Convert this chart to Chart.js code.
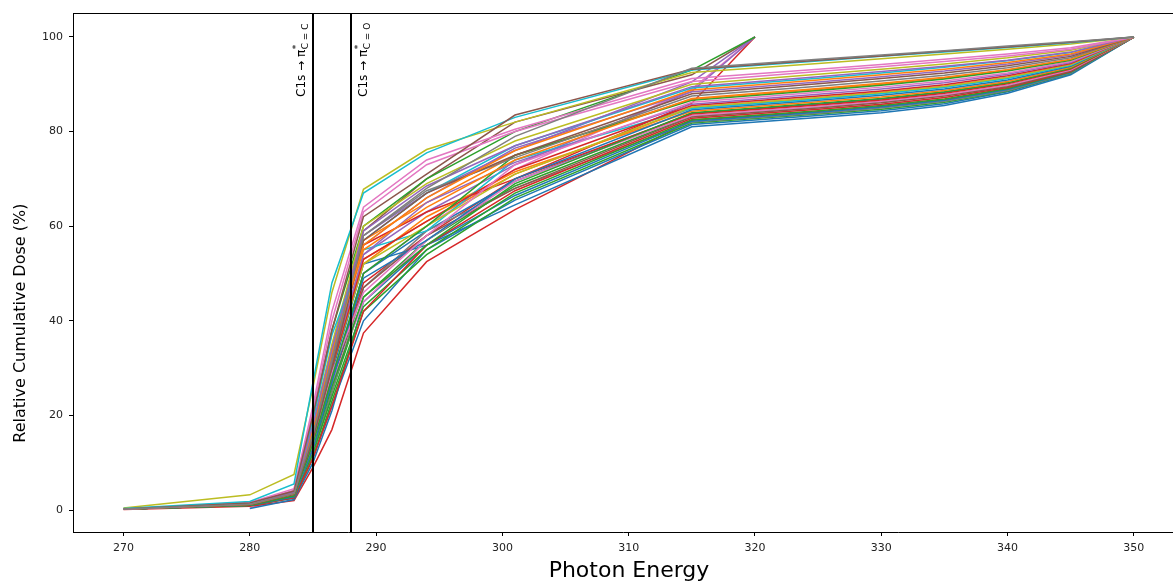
<!DOCTYPE html>
<html><head><meta charset="utf-8">
<script src="https://cdn.jsdelivr.net/npm/chart.js@4.4.1/dist/chart.umd.min.js"></script>
<style>html,body{margin:0;padding:0;background:#fff;overflow:hidden}canvas{display:block}</style>
</head><body>
<canvas id="c" width="1173" height="583"></canvas>
<script>
// ---------- data ----------
const energyLong  = [270, 280, 283.5, 285, 286.5, 289, 294, 301, 315, 325, 330, 335, 340, 345, 350];
const energyShort = [270, 280, 283.5, 285, 286.5, 289, 294, 301, 315, 320];
const xTickValues = [270, 280, 290, 300, 310, 320, 330, 340, 350];
const yTickValues = [0, 20, 40, 60, 80, 100];
const markerEnergies = [285, 288];
const markerBonds = ['C = C', 'C = O'];
const xTitle = 'Photon Energy';
const yTitle = 'Relative Cumulative Dose (%)';

// long series (end at 350)
const L01 = [0.2, 1.2, 3.5, 16, 32, 58, 68, 79, 93.4, 95.3, 96.2, 97.1, 98.1, 99.0, 100];
const L02 = [0.2, 1.5, 4.0, 20, 38, 62, 71, 83.5, 93.2, 95.1, 96.0, 97.0, 97.9, 98.9, 100];
const L03 = [0.3, 1.8, 5.5, 27, 48, 67, 75.5, 83, 93.0, 94.9, 95.9, 96.8, 97.8, 98.8, 100];
const L04 = [0.4, 3.2, 7.5, 26, 46, 67.8, 76.2, 82, 92.5, 94.4, 95.4, 96.4, 97.4, 98.5, 100];
const L05 = [0.2, 1.6, 4.5, 22, 42, 64, 74, 80.5, 91.2, 93.2, 94.2, 95.3, 96.4, 97.7, 100];
const L06 = [0.2, 1.4, 4.2, 21, 40, 63, 73, 80, 90.6, 92.7, 93.7, 94.8, 96.0, 97.4, 100];
const L07 = [0.2, 1.3, 3.8, 18, 34, 59, 68.5, 77, 89.5, 91.6, 92.7, 93.8, 95.1, 96.8, 100];
const L08 = [0.2, 1.2, 3.5, 17, 33, 56, 66, 76, 88.8, 90.9, 92.0, 93.2, 94.6, 96.4, 100];
const L09 = [0.2, 1.1, 3.3, 15, 30, 57, 67, 75, 88.0, 90.1, 91.2, 92.4, 93.9, 95.9, 100];
const L10 = [0.2, 1.2, 3.4, 16, 31, 58, 67.5, 74.5, 87.5, 89.6, 90.7, 91.9, 93.5, 95.6, 100];
const L11 = [0.2, 1.3, 3.6, 17, 33, 55, 64, 74, 87.0, 89.1, 90.2, 91.5, 93.1, 95.3, 100];
const L12 = [0.2, 1.0, 3.0, 14, 28, 50, 60, 75, 86.6, 88.7, 89.8, 91.1, 92.8, 95.1, 100];
const L13 = [0.2, 1.2, 3.2, 14, 29, 46, 58, 73, 86.2, 88.3, 89.4, 90.7, 92.4, 94.8, 100];
const L14 = [0.2, 1.3, 3.6, 16, 31, 54, 65, 73.5, 85.8, 87.9, 89.0, 90.3, 92.1, 94.6, 100];
const L15 = [0.2, 1.1, 3.2, 15, 30, 53, 61, 72, 85.5, 87.5, 88.6, 89.9, 91.8, 94.4, 100];
const L16 = [0.2, 1.2, 3.3, 15, 30, 52, 60, 71, 85.2, 87.2, 88.3, 89.6, 91.5, 94.2, 100];
const L17 = [0.3, 1.4, 3.8, 19, 37, 55, 59, 74, 84.9, 86.9, 88.0, 89.3, 91.2, 94.0, 100];
const L18 = [0.2, 1.0, 2.8, 13, 27, 49, 57, 70, 84.6, 86.6, 87.7, 89.0, 90.9, 93.8, 100];
const L19 = [0.2, 1.1, 3.1, 15, 31, 52, 62, 71.5, 84.3, 86.3, 87.3, 88.7, 90.6, 93.6, 100];
const L20 = [0.2, 1.0, 2.9, 13, 26, 45, 56, 69, 84.0, 86.0, 87.0, 88.4, 90.3, 93.4, 100];
const L21 = [0.2, 1.2, 3.3, 16, 32, 56, 63, 70, 83.7, 85.6, 86.7, 88.1, 90.1, 93.2, 100];
const L22 = [0.2, 1.1, 3.0, 13, 27, 44, 57, 69.5, 83.4, 85.3, 86.4, 87.8, 89.8, 93.0, 100];
const L23 = [0.2, 1.0, 2.9, 13, 27, 47, 58, 68, 83.1, 85.0, 86.1, 87.5, 89.5, 92.8, 100];
const L24 = [0.2, 1.0, 2.6, 11, 22, 42, 56, 67.5, 82.8, 84.7, 85.8, 87.2, 89.3, 92.7, 100];
const L25 = [0.2, 1.0, 2.7, 12, 24, 43, 55, 67, 82.5, 84.4, 85.5, 86.9, 89.1, 92.6, 100];
const L26 = [0.2, 1.1, 3.0, 14, 29, 52, 56, 66.5, 82.2, 84.1, 85.2, 86.6, 88.9, 92.5, 100];
const L27 = [0.2, 1.0, 2.8, 12, 25, 47, 59, 68, 82.0, 83.9, 85.0, 86.4, 88.7, 92.4, 100];
const L28 = [0.2, 1.0, 2.6, 11, 23, 42, 54, 66, 81.8, 83.7, 84.7, 86.2, 88.6, 92.3, 100];
const L29 = [0.2, 1.0, 2.5, 11, 22, 40, 55, 65.5, 81.5, 83.4, 84.4, 85.9, 88.4, 92.2, 100];
const L30 = [null, 0.3, 2.2, 10, 21, 44, 56, 64.5, 81.0, 83.0, 84.0, 85.5, 88.1, 92.0, 100];
const L31 = [0.1, 0.8, 2.0, 9, 17, 37.4, 52.5, 63.5, 82.4, 84.2, 85.3, 86.7, 89.0, 92.5, 100];
const L32 = [0.2, 1.2, 3.4, 16, 33, 57, 65, 75, 86.8, 88.9, 90.0, 91.3, 93.0, 95.2, 100];
const L33 = [0.2, 1.3, 3.7, 18, 35, 60, 69, 78, 90.0, 92.1, 93.2, 94.3, 95.6, 97.2, 100];
const L34 = [0.2, 1.2, 3.5, 17, 34, 57, 67, 77, 89.2, 91.3, 92.4, 93.6, 95.0, 96.7, 100];
const L35 = [0.2, 1.0, 2.9, 13, 27, 50, 59, 69.5, 83.9, 85.8, 86.9, 88.3, 90.3, 93.4, 100];
const L36 = [0.2, 1.1, 3.2, 15, 30, 53, 61, 71, 85.0, 87.0, 88.1, 89.5, 91.4, 94.1, 100];
const L37 = [0.2, 1.0, 2.8, 12, 25, 45, 57, 68.5, 83.3, 85.2, 86.3, 87.7, 89.7, 92.9, 100];
const L38 = [0.2, 1.2, 3.5, 16, 32, 56, 66, 76.5, 88.4, 90.5, 91.6, 92.8, 94.3, 96.2, 100];
const longSeries = [L01, L02, L03, L04, L05, L06, L07, L08, L09, L10, L11, L12, L13, L14, L15, L16, L17, L18, L19,
                    L20, L21, L22, L23, L24, L25, L26, L27, L28, L29, L30, L31, L32, L33, L34, L35, L36, L37, L38];

// short series (end at 320)
const S01 = [0.2, 1.3, 4.0, 20, 38, 60, 70, 80, 93.0, 100];
const S02 = [0.2, 1.2, 3.6, 17, 33, 58, 67, 76, 90.5, 100];
const S03 = [0.2, 1.1, 3.4, 16, 31, 54, 63, 73, 88.5, 100];
const S04 = [0.2, 1.0, 3.0, 13, 27, 48, 58, 70, 86.0, 100];
const S05 = [0.2, 1.2, 3.5, 17, 34, 59, 70, 82, 92.0, 100];
const S06 = [null, 0.4, 3.0, 14, 28, 50, 60, 72, 89.0, 100];
const shortSeries = [S01, S02, S03, S04, S05, S06];

// ---------- styles ----------
const tab = {blue:'#1f77b4', orange:'#ff7f0e', green:'#2ca02c', red:'#d62728', purple:'#9467bd',
             brown:'#8c564b', pink:'#e377c2', gray:'#7f7f7f', olive:'#bcbd22', cyan:'#17becf'};
const longColors = ['gray','brown','cyan','olive','pink','pink','purple','orange','brown','gray',
                    'orange','green','pink','purple','red','olive','cyan','blue','orange','green',
                    'red','pink','brown','red','green','blue','gray','green','blue','blue','red','orange',
                    'olive','cyan','blue','orange','green','purple'];
const shortColors = ['green','purple','purple','red','brown','pink'];

function toPoints(xs, ys){
  const pts = [];
  xs.forEach((xv, i) => { if (ys[i] !== null) pts.push({x: xv, y: ys[i]}); });
  return pts;
}
const datasets = [];
longSeries.forEach((s, i) => datasets.push({data: toPoints(energyLong, s), borderColor: tab[longColors[i]]}));
shortSeries.forEach((s, i) => datasets.push({data: toPoints(energyShort, s), borderColor: tab[shortColors[i]]}));
datasets.forEach(d => { d.borderWidth = 1.5; d.pointRadius = 0; d.tension = 0; d.fill = false; });

const FONT = 'DejaVu Sans';
const overlay = {
  id: 'overlay',
  afterDatasetsDraw(chart){
    const {ctx, chartArea: a, scales: {x, y}} = chart;
    ctx.save();
    ctx.strokeStyle = '#000';
    ctx.lineWidth = 2;
    markerEnergies.forEach(e => {
      const px = Math.round(x.getPixelForValue(e));
      ctx.beginPath(); ctx.moveTo(px, a.top); ctx.lineTo(px, a.bottom); ctx.stroke();
    });
    const labelOffsets = [-11, 13];
    markerEnergies.forEach((e, i) => {
      const cx = x.getPixelForValue(e) + labelOffsets[i];
      ctx.save();
      ctx.translate(cx, 97);
      ctx.rotate(-Math.PI / 2);
      ctx.fillStyle = '#000';
      ctx.textBaseline = 'middle';
      ctx.textAlign = 'left';
      ctx.font = `12px "${FONT}"`;
      const main = 'C1s \u2192 \u03c0';
      ctx.fillText(main, 0, 0);
      const w = ctx.measureText(main).width;
      ctx.font = `9px "${FONT}"`;
      ctx.fillText('*', w + 0.5, -5);
      ctx.fillText(markerBonds[i], w + 0.5, 4);
      ctx.restore();
    });
    ctx.lineWidth = 1;
    ctx.beginPath(); ctx.moveTo(a.left, a.top + 0.5); ctx.lineTo(a.right, a.top + 0.5); ctx.stroke();
    // axis titles
    ctx.fillStyle = '#000';
    ctx.textAlign = 'center';
    ctx.textBaseline = 'middle';
    ctx.font = `22px "${FONT}"`;
    ctx.fillText(xTitle, 629, 571);
    ctx.save();
    ctx.translate(21, y.getPixelForValue(39.5));
    ctx.rotate(-Math.PI / 2);
    ctx.font = `16px "${FONT}"`;
    ctx.fillText(yTitle, 0, 0);
    ctx.restore();
    ctx.restore();
  }
};

new Chart(document.getElementById('c'), {
  type: 'line',
  data: {datasets},
  options: {
    responsive: false, animation: false, devicePixelRatio: 1,
    layout: {padding: {top: 13, right: 0, bottom: 0, left: 0}},
    plugins: {legend: {display: false}, tooltip: {enabled: false}},
    scales: {
      x: {
        type: 'linear', min: 266, max: 353.1,
        afterBuildTicks: s => { s.ticks = xTickValues.map(v => ({value: v})); },
        afterFit: s => { s.height = 51; },
        grid: {drawOnChartArea: false, drawTicks: true, tickLength: 4, color: '#000'},
        border: {display: true, color: '#000', width: 1},
        ticks: {font: {family: FONT, size: 11}, color: '#222', padding: 6, maxRotation: 0, autoSkip: false}
      },
      y: {
        type: 'linear', min: -4.65, max: 105.07,
        afterBuildTicks: s => { s.ticks = yTickValues.map(v => ({value: v})); },
        afterFit: s => { s.width = 73; },
        grid: {drawOnChartArea: false, drawTicks: true, tickLength: 4, color: '#000'},
        border: {display: true, color: '#000', width: 1},
        ticks: {font: {family: FONT, size: 11}, color: '#222', padding: 6, autoSkip: false}
      }
    }
  },
  plugins: [overlay]
});
</script>
</body></html>
